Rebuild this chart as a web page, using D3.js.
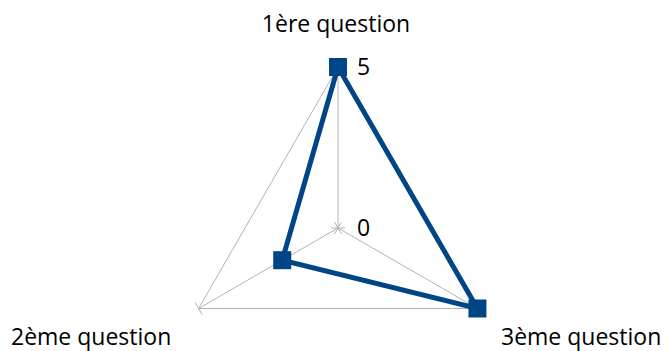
<!DOCTYPE html>
<html><head><meta charset="utf-8">
<script src="https://cdn.jsdelivr.net/npm/d3@7"></script>
<style>body{margin:0;background:#fff}svg{display:block}</style>
</head><body>
<svg id="c" width="668" height="351"></svg>
<script>
const categories = ["1ère question", "2ème question", "3ème question"];
const values = [5, 2, 5];
const tickValues = [0, 5];

const W = 668, H = 351;
const cx = 338, cy = 228, R = 161;
const svg = d3.select("#c");
const r = d3.scaleLinear().domain([0, 5]).range([0, R]);
const ang = i => [-Math.PI/2, Math.PI*5/6, Math.PI/6][i];
const pt = (i, v) => [cx + r(v) * Math.cos(ang(i)), cy + r(v) * Math.sin(ang(i))];
const grey = "#b3b3b3";
const font = "'Open Sans', 'Noto Sans', sans-serif";
const fs = 23;

// outer grid
svg.append("path")
  .attr("d", d3.line()(categories.map((c, i) => pt(i, 5))) + "Z")
  .attr("fill", "none").attr("stroke", grey).attr("stroke-width", 1);
// axes
categories.forEach((c, i) => {
  const [x, y] = pt(i, 5);
  svg.append("line").attr("x1", cx).attr("y1", cy).attr("x2", x).attr("y2", y)
    .attr("stroke", grey).attr("stroke-width", 1);
  tickValues.forEach(t => {
    const [tx, ty] = pt(i, t);
    const a = ang(i) + Math.PI / 2, L = 7;
    svg.append("line")
      .attr("x1", tx - L * Math.cos(a)).attr("y1", ty - L * Math.sin(a))
      .attr("x2", tx + L * Math.cos(a)).attr("y2", ty + L * Math.sin(a))
      .attr("stroke", grey).attr("stroke-width", 1);
  });
});
// tick labels on first axis
tickValues.forEach(t => {
  const [x, y] = pt(0, t);
  svg.append("text").attr("x", x + 19).attr("y", y).attr("dy", "0.36em")
    .attr("font-family", font).attr("font-size", fs).attr("fill", "#000").text(t);
});
// series
const pts = values.map((v, i) => pt(i, v));
svg.append("path").attr("d", d3.line()(pts) + "Z")
  .attr("fill", "none").attr("stroke", "#004586").attr("stroke-width", 5)
  .attr("stroke-linejoin", "miter");
svg.selectAll("rect.m").data(pts).enter().append("rect")
  .attr("x", d => d[0] - 9).attr("y", d => d[1] - 9)
  .attr("width", 18).attr("height", 18).attr("fill", "#004586");
// category labels
const lab = [
  {x: 336, y: 32, a: "middle"},
  {x: 11, y: 345, a: "start"},
  {x: 501, y: 345, a: "start"}
];
categories.forEach((c, i) => {
  svg.append("text").attr("x", lab[i].x).attr("y", lab[i].y)
    .attr("text-anchor", lab[i].a)
    .attr("font-family", font).attr("font-size", fs).attr("fill", "#000").text(c);
});
</script>
</body></html>
